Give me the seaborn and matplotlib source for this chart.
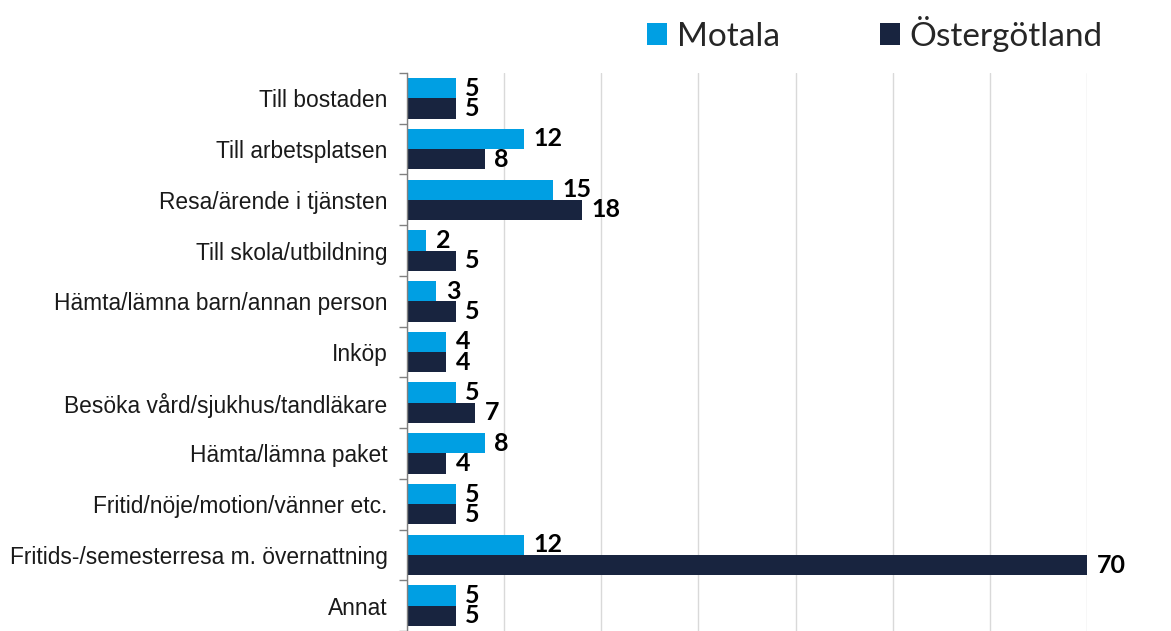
import matplotlib
matplotlib.use("Agg")
import matplotlib.pyplot as plt
import seaborn as sns
import pandas as pd
import numpy as np

categories = ["Till bostaden", "Till arbetsplatsen", "Resa/ärende i tjänsten",
              "Till skola/utbildning", "Hämta/lämna barn/annan person", "Inköp",
              "Besöka vård/sjukhus/tandläkare", "Hämta/lämna paket",
              "Fritid/nöje/motion/vänner etc.", "Fritids-/semesterresa m. övernattning",
              "Annat"]
motala = [5, 12, 15, 2, 3, 4, 5, 8, 5, 12, 5]
ostergotland = [5, 8, 18, 5, 5, 4, 7, 4, 5, 70, 5]
series = ["Motala", "Östergötland"]
colors = ["#009FE3", "#18243F"]

df = pd.DataFrame({
    "cat": categories * 2,
    "val": motala + ostergotland,
    "serie": [series[0]] * len(categories) + [series[1]] * len(categories),
})

sns.set_theme(style="white")
plt.rcParams['font.family'] = ['Liberation Sans', 'DejaVu Sans']

fig = plt.figure(figsize=(11.71, 6.31), dpi=100)
ax = fig.add_axes([407/1171, 0.0, 680/1171, 1 - 73/631])

sns.barplot(data=df, y="cat", x="val", hue="serie", order=categories,
            hue_order=series, palette=colors, orient="h", width=0.8,
            saturation=1, ax=ax, legend=True, linewidth=0)

ax.set_xlim(0, 70)
ax.set_ylim(len(categories) - 0.5, -0.5)
ax.set_xticks(np.arange(0, 71, 10))
ax.set_xticklabels([])
ax.tick_params(axis="x", length=0)
ax.grid(axis="x", color="#D9D9D9", linewidth=1)
ax.set_axisbelow(True)
ax.set_xlabel("")
ax.set_ylabel("")

ax.set_yticks(range(len(categories)))
ax.set_yticklabels(categories, fontsize=16.4, color="#1a1a1a")
ax.tick_params(axis="y", which="major", length=0, pad=14)
ax.set_yticks(np.arange(-0.5, len(categories), 1), minor=True)
ax.tick_params(axis="y", which="minor", length=6, color="#808080", width=1, left=True)

for s in ["top", "right", "bottom"]:
    ax.spines[s].set_visible(False)
ax.spines["left"].set_color("#808080")
ax.spines["left"].set_linewidth(1)

for cont in ax.containers:
    ax.bar_label(cont, labels=[f"{int(v)}" for v in cont.datavalues], padding=7,
                 fontsize=18, fontweight="bold", family=["Lato", "DejaVu Sans"],
                 color="black")

leg = ax.legend(loc="upper left", bbox_to_anchor=(640/1171, 1 - 9/631), bbox_transform=fig.transFigure,
                ncol=2, frameon=False, fontsize=24, handlelength=0.6, handleheight=0.6,
                handletextpad=0.3, columnspacing=3.0, borderaxespad=0.2, borderpad=0.0)
for t in leg.get_texts():
    t.set_family(["Lato", "DejaVu Sans"])

fig.savefig("out.png", dpi=100)
